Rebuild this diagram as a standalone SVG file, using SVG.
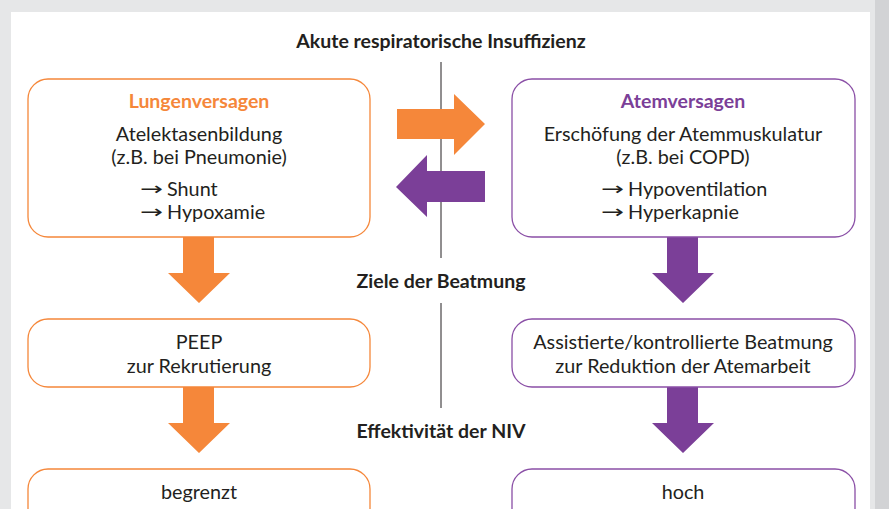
<svg xmlns="http://www.w3.org/2000/svg" width="889" height="509" viewBox="0 0 889 509">
<style>
.t{font-family:Lato,"Open Sans","Liberation Sans",sans-serif;font-size:19.8px;fill:#231f20;text-anchor:middle}
.s{text-anchor:start}
.ar{font-family:"DejaVu Sans",sans-serif;font-size:18px;fill:#231f20}
.h{font-family:Lato,"Open Sans","Liberation Sans",sans-serif;font-size:19.5px;font-weight:bold;fill:#231f20;text-anchor:middle}
.ho{fill:#f5873a}
.hp{fill:#7b3f98}
.bo{fill:#fff;stroke:#f5873a;stroke-width:1.3}
.bp{fill:#fff;stroke:#8a4fa6;stroke-width:1.3}
.ao{fill:#f5873a}
.ap{fill:#7b3f98}
</style>
<rect x="0" y="0" width="889" height="509" fill="#e6e7e8"/>
<rect x="875" y="0" width="14" height="509" fill="#d2d3d5"/>
<rect x="11" y="12" width="859" height="497" fill="#fff"/>
<g id="connectors">
<line x1="441" y1="62" x2="441" y2="258" stroke="#231f20" stroke-width="1"/>
<line x1="441" y1="303" x2="441" y2="408" stroke="#231f20" stroke-width="1"/>
<polygon class="ao" points="397,109 454,109 454,94 485,124 454,155 454,139 397,139"/>
<polygon class="ap" points="485,171 427,171 427,155 396,187 427,217 427,202 485,202"/>
<polygon class="ao" points="183,237 214,237 214,273 230,273 199,303 168,273 183,273"/>
<polygon class="ap" points="667,237 698,237 698,273 714,273 683,303 652,273 667,273"/>
<polygon class="ao" points="183,387 214,387 214,423 230,423 199,453 168,423 183,423"/>
<polygon class="ap" points="667,387 698,387 698,423 714,423 683,453 652,423 667,423"/>
</g>
<g id="title"><text class="h" x="441" y="48">Akute respiratorische Insuffizienz</text></g>
<g id="ziele"><text class="h" x="441" y="288">Ziele der Beatmung</text></g>
<g id="effekt"><text class="h" x="441" y="438">Effektivität der NIV</text></g>
<g id="lungenversagen">
<rect class="bo" x="28" y="79" width="342" height="158" rx="20"/>
<text class="h ho" x="199" y="108">Lungenversagen</text>
<text class="t" x="199" y="141">Atelektasenbildung</text>
<text class="t" x="199" y="164">(z.B. bei Pneumonie)</text>
<text class="ar" x="140" y="195" textLength="23" lengthAdjust="spacingAndGlyphs">→</text><text class="t s" x="167" y="196">Shunt</text>
<text class="ar" x="140" y="218" textLength="23" lengthAdjust="spacingAndGlyphs">→</text><text class="t s" x="167" y="219">Hypoxamie</text>
</g>
<g id="atemversagen">
<rect class="bp" x="512" y="79" width="343" height="158" rx="20"/>
<text class="h hp" x="683" y="108">Atemversagen</text>
<text class="t" x="683" y="141">Erschöfung der Atemmuskulatur</text>
<text class="t" x="683" y="164">(z.B. bei COPD)</text>
<text class="ar" x="601" y="195" textLength="23" lengthAdjust="spacingAndGlyphs">→</text><text class="t s" x="628" y="196">Hypoventilation</text>
<text class="ar" x="601" y="218" textLength="23" lengthAdjust="spacingAndGlyphs">→</text><text class="t s" x="628" y="219">Hyperkapnie</text>
</g>
<g id="peep">
<rect class="bo" x="28" y="319" width="342" height="68" rx="20"/>
<text class="t" x="199" y="349">PEEP</text>
<text class="t" x="199" y="373">zur Rekrutierung</text>
</g>
<g id="assistiert">
<rect class="bp" x="512" y="319" width="343" height="68" rx="20"/>
<text class="t" x="683" y="349">Assistierte/kontrollierte Beatmung</text>
<text class="t" x="683" y="373">zur Reduktion der Atemarbeit</text>
</g>
<g id="begrenzt">
<rect class="bo" x="28" y="469" width="342" height="68" rx="20"/>
<text class="t" x="199" y="499">begrenzt</text>
</g>
<g id="hoch">
<rect class="bp" x="512" y="469" width="343" height="68" rx="20"/>
<text class="t" x="683" y="499">hoch</text>
</g>
</svg>
